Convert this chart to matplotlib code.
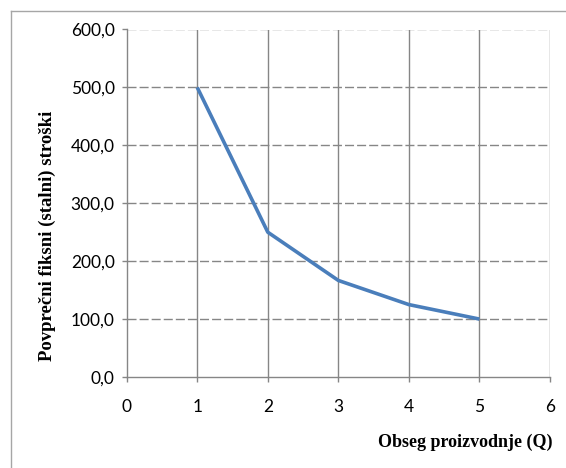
import matplotlib
matplotlib.use("Agg")
import matplotlib.pyplot as plt
from matplotlib.lines import Line2D

# Data
quantity = [1, 2, 3, 4, 5]
avg_fixed_cost = [500.0, 250.0, 166.7, 125.0, 100.0]
x_ticks = [0, 1, 2, 3, 4, 5, 6]
y_ticks = [0, 100, 200, 300, 400, 500, 600]
x_label = "Obseg proizvodnje (Q)"
y_label = "Povprečni fiksni (stalni) stroški"

W, H = 566, 468
fig = plt.figure(figsize=(W / 100, H / 100), dpi=100)
fig.patch.set_facecolor("white")

# outer chart border (left and top visible)
border_col = "#a6a6a6"
fig.add_artist(Line2D([10.5 / W, 10.5 / W], [0, 1 - 10.5 / H], color=border_col, lw=1.0, transform=fig.transFigure))
fig.add_artist(Line2D([10.5 / W, 1], [1 - 10.5 / H, 1 - 10.5 / H], color=border_col, lw=1.0, transform=fig.transFigure))

left, right = 126.7 / W, 550 / W
bottom, top = 1 - 377 / H, 1 - 29.5 / H
ax = fig.add_axes([left, bottom, right - left, top - bottom])

grid_col = "#868686"
ax.plot(quantity, avg_fixed_cost, color="#4a7ebb", lw=2.6, solid_capstyle="butt", zorder=3)

ax.set_xlim(0, 6)
ax.set_ylim(0, 600)
ax.set_xticks(x_ticks)
ax.set_yticks(y_ticks)
ax.set_xticklabels([str(v) for v in x_ticks])
ax.set_yticklabels([f"{v:.1f}".replace(".", ",") for v in y_ticks])

for v in x_ticks[1:]:
    ax.axvline(v, color=grid_col, lw=1.0, zorder=1)
for v in y_ticks[1:]:
    ax.axhline(v, color=grid_col, lw=1.0, dashes=(6.5, 2.2), zorder=1)

for s in ["top", "right"]:
    ax.spines[s].set_visible(False)
for s in ["left", "bottom"]:
    ax.spines[s].set_color(grid_col)
    ax.spines[s].set_linewidth(1.0)

ax.tick_params(axis="both", direction="out", length=3.6, width=1.0, color=grid_col,
               labelsize=12.5, labelcolor="black")
ax.tick_params(axis="y", pad=5)
ax.tick_params(axis="x", pad=12)
for lab in ax.get_xticklabels() + ax.get_yticklabels():
    lab.set_fontfamily(["Lato", "DejaVu Sans"])

fig.text(47 / W, 1 - 236 / H, y_label, rotation=90, ha="center", va="center",
         fontsize=13.5, fontweight="bold", family=["Liberation Serif", "DejaVu Serif"])
fig.text(552 / W, 1 - 442 / H, x_label, ha="right", va="center",
         fontsize=13, fontweight="bold", family=["Liberation Serif", "DejaVu Serif"])

fig.savefig("out.png", dpi=100)
